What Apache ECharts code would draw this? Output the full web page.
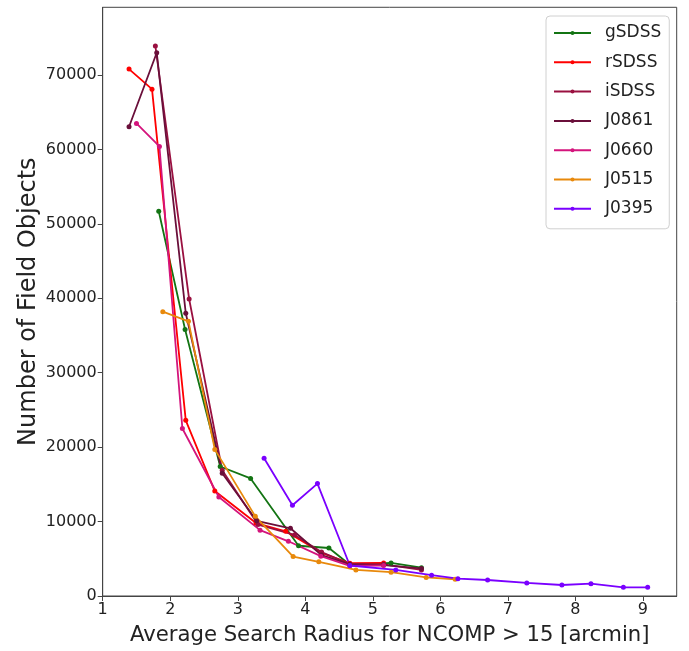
<!DOCTYPE html>
<html>
<head>
<meta charset="utf-8">
<script src="https://cdn.jsdelivr.net/npm/echarts@6/dist/echarts.min.js"></script>
<style>html,body{margin:0;padding:0;background:#fff}#c{width:689px;height:651px}</style>
</head>
<body>
<div id="c"></div>
<script>
const gSDSS_x = [1.83, 2.22, 2.74, 3.19, 3.90, 4.35, 4.66, 5.27, 5.72];
const gSDSS_y = [51700, 35800, 17400, 15800, 6750, 6450, 4200, 4450, 3800];
const rSDSS_x = [1.39, 1.73, 2.23, 2.66, 3.27, 3.71, 4.24, 4.66, 5.16];
const rSDSS_y = [70800, 68100, 23600, 14100, 9800, 8700, 5800, 4400, 4450];
const iSDSS_x = [1.78, 2.28, 2.77, 3.30, 3.84, 4.24, 4.66, 5.16, 5.72];
const iSDSS_y = [73900, 39900, 16900, 9600, 8200, 5900, 4300, 4250, 3500];
const J0861_x = [1.39, 1.80, 2.23, 2.77, 3.28, 3.78, 4.24, 4.66, 5.16, 5.72];
const J0861_y = [63050, 73000, 38000, 16500, 10100, 9100, 5500, 4250, 4150, 3700];
const J0660_x = [1.50, 1.84, 2.18, 2.72, 3.33, 3.75, 4.23, 4.66, 5.16];
const J0660_y = [63500, 60400, 22500, 13300, 8850, 7350, 5350, 4050, 4100];
const J0515_x = [1.89, 2.27, 2.66, 3.26, 3.82, 4.20, 4.75, 5.27, 5.79, 6.22];
const J0515_y = [38200, 36900, 19700, 10700, 5300, 4600, 3500, 3200, 2500, 2250];
const J0395_x = [3.39, 3.81, 4.18, 4.66, 5.34, 5.87, 6.26, 6.70, 7.28, 7.80, 8.23, 8.71, 9.07];
const J0395_y = [18500, 12200, 15100, 4100, 3500, 2800, 2330, 2150, 1750, 1480, 1660, 1170, 1170];

const seriesNames = ['gSDSS', 'rSDSS', 'iSDSS', 'J0861', 'J0660', 'J0515', 'J0395'];
const seriesX = [gSDSS_x, rSDSS_x, iSDSS_x, J0861_x, J0660_x, J0515_x, J0395_x];
const seriesY = [gSDSS_y, rSDSS_y, iSDSS_y, J0861_y, J0660_y, J0515_y, J0395_y];
const colors = ['#137413', '#ff0000', '#9a1040', '#6a0f3a', '#d4147c', '#e8890c', '#7a00ff'];

const xTicks = [1, 2, 3, 4, 5, 6, 7, 8, 9];
const yTicks = [0, 10000, 20000, 30000, 40000, 50000, 60000, 70000];

const font = 'DejaVu Sans';
const axisColor = '#444';

const chart = echarts.init(document.getElementById('c'), null, {renderer: 'canvas'});
chart.setOption({
  animation: false,
  backgroundColor: '#fff',
  grid: {left: 102.7, right: 12.3, top: 7.3, bottom: 54.3, show: true, borderColor: axisColor, borderWidth: 1},
  legend: {
    orient: 'vertical',
    left: 546, top: 16,
    padding: [7, 8, 10, 7],
    itemGap: 9.3,
    itemWidth: 37, itemHeight: 5,
    borderColor: '#d0d0d0', borderWidth: 1, borderRadius: 4,
    backgroundColor: '#fff',
    textStyle: {fontFamily: font, fontSize: 17, color: '#222', lineHeight: 20, padding: [0, 0, 0, 9]},
    data: seriesNames
  },
  xAxis: {
    type: 'value', min: 1, max: 9.5, interval: 1,
    name: 'Average Search Radius for NCOMP > 15 [arcmin]',
    nameLocation: 'middle', nameGap: 29,
    nameMoveOverlap: false,
    nameTextStyle: {fontFamily: font, fontSize: 21.2, color: '#222'},
    axisLine: {show: true, lineStyle: {color: axisColor, width: 1}},
    axisTick: {show: true, length: 5, lineStyle: {color: axisColor}},
    splitLine: {show: false},
    axisLabel: {fontFamily: font, fontSize: 16, color: '#222', margin: 6, showMaxLabel: false,
      formatter: v => xTicks.includes(v) ? String(v) : ''}
  },
  yAxis: {
    type: 'value', min: 0, max: 79100, interval: 10000,
    name: 'Number of Field Objects',
    nameLocation: 'middle', nameGap: 62,
    nameMoveOverlap: false,
    nameTextStyle: {fontFamily: font, fontSize: 24, color: '#222'},
    axisLine: {show: true, lineStyle: {color: axisColor, width: 1}},
    axisTick: {show: true, length: 5, lineStyle: {color: axisColor}},
    splitLine: {show: false},
    axisLabel: {fontFamily: font, fontSize: 16, color: '#222', margin: 6, showMaxLabel: false,
      formatter: v => yTicks.includes(v) ? String(v) : ''}
  },
  series: seriesNames.map((n, i) => ({
    name: n, type: 'line',
    data: seriesX[i].map((x, j) => [x, seriesY[i][j]]),
    color: colors[i],
    symbol: 'circle', symbolSize: 5,
    lineStyle: {width: 1.8, color: colors[i]},
    itemStyle: {color: colors[i]},
    emphasis: {disabled: true}
  }))
});
</script>
</body>
</html>
